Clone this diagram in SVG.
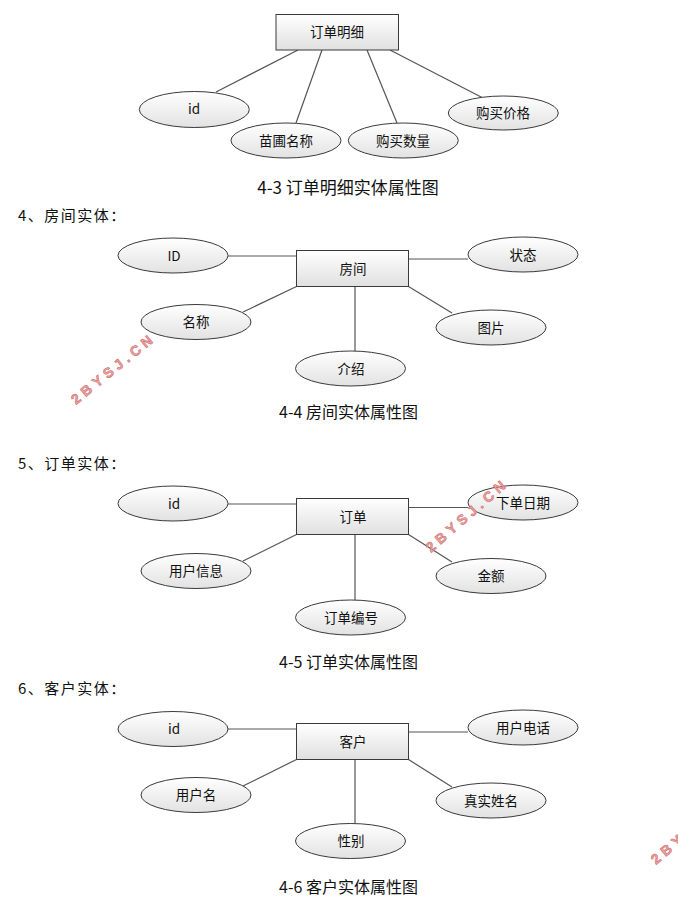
<svg xmlns="http://www.w3.org/2000/svg" width="678" height="905" viewBox="0 0 678 905">
<defs>
<linearGradient id="gEll" x1="0" y1="0" x2="0" y2="1">
<stop offset="0" stop-color="#ffffff"/>
<stop offset="1" stop-color="#e2e2e2"/>
</linearGradient>
<linearGradient id="gBox" x1="0" y1="0" x2="0" y2="1">
<stop offset="0" stop-color="#ffffff"/>
<stop offset="1" stop-color="#e0e0e0"/>
</linearGradient>
<style>
.ent{fill:url(#gBox);stroke:#3a3a3a;stroke-width:1}
.att{fill:url(#gEll);stroke:#3a3a3a;stroke-width:1}
.lbl{font-family:"Noto Sans CJK SC","Noto Sans",sans-serif;font-size:13.5px;fill:#111;text-anchor:middle}
.cap{font-family:"Noto Sans CJK SC",sans-serif;font-size:16px;fill:#111;text-anchor:middle}
.hd{font-family:"Noto Sans CJK SC",sans-serif;font-size:15px;letter-spacing:1.5px;fill:#111}
.conn line{stroke:#555;stroke-width:1.2}
.wm{font-family:"Liberation Sans",Arial,sans-serif;font-weight:bold;font-size:14px;letter-spacing:4.5px;fill:#eaa4a4;stroke:#cc6060;stroke-width:0.5}
</style>
</defs>
<rect width="678" height="905" fill="#ffffff"/>

<!-- connectors -->
<g id="connectors" class="conn">
<line x1="298" y1="50" x2="216" y2="92"/>
<line x1="322" y1="50" x2="296" y2="123"/>
<line x1="367" y1="50" x2="397" y2="123"/>
<line x1="390" y1="50" x2="483" y2="98"/>

<line x1="228" y1="256" x2="296.5" y2="256"/>
<line x1="408.5" y1="259" x2="468" y2="259"/>
<line x1="296.5" y1="286.5" x2="243" y2="312"/>
<line x1="355" y1="286.5" x2="355" y2="351"/>
<line x1="408.5" y1="286.5" x2="452" y2="313"/>

<line x1="228" y1="504" x2="296.5" y2="504"/>
<line x1="408.5" y1="507.5" x2="468" y2="507.5"/>
<line x1="296.5" y1="534.5" x2="243" y2="561"/>
<line x1="355" y1="534.5" x2="355" y2="600"/>
<line x1="408.5" y1="534.5" x2="452" y2="562"/>

<line x1="228" y1="729" x2="296.5" y2="729"/>
<line x1="408.5" y1="732" x2="468" y2="732"/>
<line x1="296.5" y1="759.5" x2="243" y2="786"/>
<line x1="355" y1="759.5" x2="355" y2="824"/>
<line x1="408.5" y1="759.5" x2="452" y2="787"/>
</g>

<!-- section 4-3 -->
<g id="e-orderdetail"><rect class="ent" x="276" y="14.5" width="122.5" height="35.5"/><text class="lbl" x="337" y="37">订单明细</text></g>
<g id="a-od-id"><ellipse class="att" cx="194.3" cy="109.5" rx="55" ry="18"/><text class="lbl" x="194" y="114">id</text></g>
<g id="a-od-name"><ellipse class="att" cx="286" cy="140.5" rx="55" ry="17.5"/><text class="lbl" x="286" y="145.5">苗圃名称</text></g>
<g id="a-od-qty"><ellipse class="att" cx="403.3" cy="140.5" rx="55" ry="17.5"/><text class="lbl" x="403" y="145.5">购买数量</text></g>
<g id="a-od-price"><ellipse class="att" cx="503.3" cy="113" rx="55" ry="17"/><text class="lbl" x="503" y="118">购买价格</text></g>
<text class="cap" x="348" y="194" style="font-size:17px">4-3 订单明细实体属性图</text>

<!-- section 4-4 -->
<text class="hd" x="18" y="221">4、房间实体：</text>
<g id="e-room"><rect class="ent" x="296.5" y="250.5" width="112" height="36"/><text class="lbl" x="353" y="273.5">房间</text></g>
<g id="a-room-id"><ellipse class="att" cx="173" cy="255.5" rx="55" ry="17.5"/><text class="lbl" x="174" y="260.5">ID</text></g>
<g id="a-room-state"><ellipse class="att" cx="523" cy="254.5" rx="55" ry="17.5"/><text class="lbl" x="523" y="259.5">状态</text></g>
<g id="a-room-name"><ellipse class="att" cx="196" cy="322" rx="55" ry="17.5"/><text class="lbl" x="196" y="327">名称</text></g>
<g id="a-room-pic"><ellipse class="att" cx="491" cy="327.5" rx="55" ry="17.5"/><text class="lbl" x="491" y="332.5">图片</text></g>
<g id="a-room-intro"><ellipse class="att" cx="350.5" cy="368.5" rx="55" ry="17.5"/><text class="lbl" x="351" y="373.5">介绍</text></g>
<text class="cap" x="348.5" y="418">4-4 房间实体属性图</text>

<!-- section 4-5 -->
<text class="hd" x="18" y="469">5、订单实体：</text>
<g id="e-order"><rect class="ent" x="296.5" y="498.5" width="112" height="36"/><text class="lbl" x="353" y="521.5">订单</text></g>
<g id="a-order-id"><ellipse class="att" cx="173" cy="503.5" rx="55" ry="17.5"/><text class="lbl" x="174" y="508.5">id</text></g>
<g id="a-order-date"><ellipse class="att" cx="523" cy="502.5" rx="55" ry="17.5"/><text class="lbl" x="523" y="507.5">下单日期</text></g>
<g id="a-order-user"><ellipse class="att" cx="196" cy="571" rx="55" ry="17.5"/><text class="lbl" x="196" y="576">用户信息</text></g>
<g id="a-order-amount"><ellipse class="att" cx="491" cy="576" rx="55" ry="17.5"/><text class="lbl" x="491" y="581">金额</text></g>
<g id="a-order-no"><ellipse class="att" cx="350.5" cy="617.5" rx="55" ry="17.5"/><text class="lbl" x="351" y="622.5">订单编号</text></g>
<text class="cap" x="348.5" y="668">4-5 订单实体属性图</text>

<!-- section 4-6 -->
<text class="hd" x="18" y="694">6、客户实体：</text>
<g id="e-customer"><rect class="ent" x="296.5" y="723.5" width="112" height="36"/><text class="lbl" x="353" y="746.5">客户</text></g>
<g id="a-cust-id"><ellipse class="att" cx="173" cy="729" rx="55" ry="17.5"/><text class="lbl" x="174" y="734">id</text></g>
<g id="a-cust-phone"><ellipse class="att" cx="523" cy="727.5" rx="55" ry="17.5"/><text class="lbl" x="523" y="732.5">用户电话</text></g>
<g id="a-cust-user"><ellipse class="att" cx="196" cy="795" rx="55" ry="17.5"/><text class="lbl" x="196" y="800">用户名</text></g>
<g id="a-cust-name"><ellipse class="att" cx="491" cy="800.5" rx="55" ry="17.5"/><text class="lbl" x="491" y="805.5">真实姓名</text></g>
<g id="a-cust-sex"><ellipse class="att" cx="350.5" cy="841" rx="55" ry="17.5"/><text class="lbl" x="351" y="846">性别</text></g>
<text class="cap" x="348.5" y="893">4-6 客户实体属性图</text>

<!-- watermarks -->
<text class="wm" transform="translate(76,405) rotate(-39)">2BYSJ.CN</text>
<text class="wm" transform="translate(431,553) rotate(-41)">2BYSJ.CN</text>
<text class="wm" transform="translate(656,865) rotate(-40)">2BYSJ.CN</text>
</svg>
